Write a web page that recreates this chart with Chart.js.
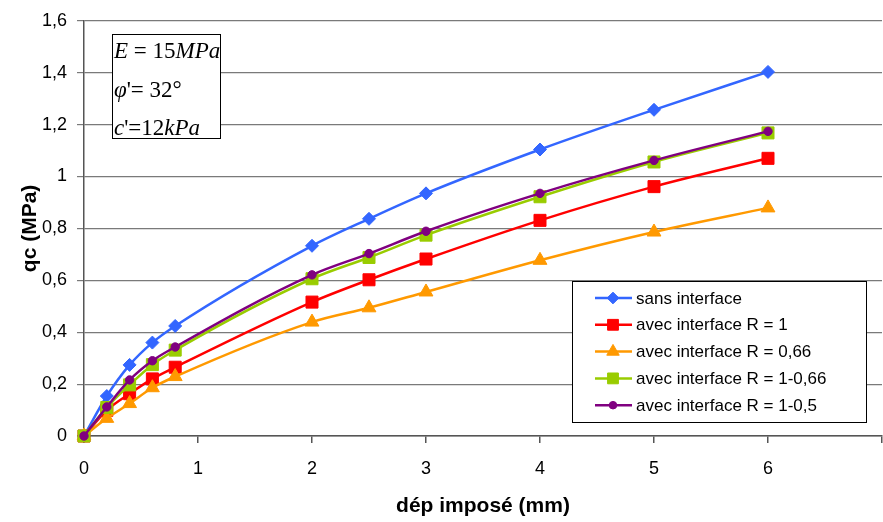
<!DOCTYPE html>
<html><head><meta charset="utf-8">
<script src="https://cdn.jsdelivr.net/npm/chart.js@4.4.1/dist/chart.umd.min.js"></script>
<style>html,body{margin:0;padding:0;background:#fff}#wrap{width:883px;height:522px;position:relative}</style>
</head><body><div id="wrap"><canvas id="c" width="883" height="522"></canvas></div>
<script>
// ---- data ----
const displacement = [0, 0.2, 0.4, 0.6, 0.8, 2, 2.5, 3, 4, 5, 6];
const seriesNames = ['sans interface', 'avec interface R = 1', 'avec interface R = 0,66', 'avec interface R = 1-0,66', 'avec interface R = 1-0,5'];
const sansInterface   = [0, 0.154, 0.274, 0.360, 0.424, 0.733, 0.837, 0.935, 1.104, 1.257, 1.403];
const interfaceR1     = [0, 0.099, 0.163, 0.220, 0.265, 0.516, 0.602, 0.682, 0.831, 0.961, 1.070];
const interfaceR066   = [0, 0.068, 0.125, 0.186, 0.229, 0.439, 0.494, 0.555, 0.677, 0.786, 0.879];
const interfaceR1_066 = [0, 0.110, 0.197, 0.275, 0.331, 0.606, 0.688, 0.774, 0.922, 1.056, 1.168];
const interfaceR1_05  = [0, 0.112, 0.216, 0.290, 0.343, 0.621, 0.703, 0.789, 0.935, 1.062, 1.174];
const xTickLabels = ['0', '1', '2', '3', '4', '5', '6', ''];
const yTickLabels = ['0', '0,2', '0,4', '0,6', '0,8', '1', '1,2', '1,4', '1,6'];
const xTitle = 'dép imposé (mm)';
const yTitle = 'qc (MPa)';
const paramLines = ['E = 15MPa', "φ'= 32°", "c'=12kPa"];

// ---- styles ----
const seriesValues = [sansInterface, interfaceR1, interfaceR066, interfaceR1_066, interfaceR1_05];
const colors = ['#3366FF', '#FF0000', '#FF9900', '#99CC00', '#800080'];
const pointStyles = ['rectRot', 'rect', 'triangle', 'rect', 'circle'];
const pointRadii = [6.5, 8.5, 8, 8.5, 4.2];
const FONT = "'Liberation Sans', Arial, sans-serif";

const datasets = seriesValues.map((vals, i) => ({
  label: seriesNames[i],
  data: displacement.map((x, k) => ({ x: x, y: vals[k] })),
  borderColor: colors[i],
  backgroundColor: colors[i],
  pointBackgroundColor: colors[i],
  pointBorderColor: colors[i],
  pointBorderWidth: 1,
  pointStyle: pointStyles[i],
  pointRadius: pointRadii[i],
  borderWidth: 2.5,
  cubicInterpolationMode: 'monotone',
  order: seriesValues.length - 1 - i,
  clip: false
}));

const overlayPlugin = {
  id: 'overlay',
  afterDraw(chart) {
    const ctx = chart.ctx;
    ctx.save();
    // parameter box
    const bx = 112, by = 34, bw = 108, bh = 104;
    ctx.fillStyle = '#fff';
    ctx.fillRect(bx, by, bw, bh);
    ctx.strokeStyle = '#000';
    ctx.lineWidth = 1;
    ctx.strokeRect(bx + 0.5, by + 0.5, bw, bh);
    ctx.fillStyle = '#000';
    ctx.textBaseline = 'alphabetic';
    ctx.textAlign = 'left';
    paramLines.forEach((line, li) => {
      let x = bx + 2;
      const y = 58 + li * 38.5;
      for (const ch of line) {
        const italic = /[A-Za-zφ]/.test(ch);
        ctx.font = (italic ? 'italic ' : '') + "23px 'Liberation Serif', 'Times New Roman', serif";
        ctx.fillText(ch, x, y);
        x += ctx.measureText(ch).width;
      }
    });
    // legend
    const lx = 572, ly = 281, lw = 294, lh = 141;
    ctx.fillStyle = '#fff';
    ctx.fillRect(lx, ly, lw, lh);
    ctx.strokeStyle = '#000';
    ctx.strokeRect(lx + 0.5, ly + 0.5, lw, lh);
    chart.data.datasets.forEach((ds, i) => {
      const y = 298 + i * 26.8;
      ctx.strokeStyle = ds.borderColor;
      ctx.lineWidth = 2.5;
      ctx.beginPath();
      ctx.moveTo(595, y);
      ctx.lineTo(632, y);
      ctx.stroke();
      ctx.fillStyle = ds.pointBackgroundColor;
      ctx.strokeStyle = ds.pointBorderColor;
      ctx.lineWidth = 1;
      Chart.helpers.drawPoint(ctx, { pointStyle: ds.pointStyle, radius: ds.pointRadius * 0.9, rotation: 0, borderWidth: 1 }, 613, y);
      ctx.fillStyle = '#000';
      ctx.font = '17px ' + FONT;
      ctx.textBaseline = 'middle';
      ctx.fillText(ds.label, 636, y + 1);
    });
    ctx.restore();
  }
};

new Chart(document.getElementById('c'), {
  type: 'line',
  data: { datasets: datasets },
  options: {
    responsive: false,
    animation: false,
    devicePixelRatio: 1,
    layout: { autoPadding: false, padding: { top: 17, right: 1, left: 0, bottom: 0 } },
    plugins: { legend: { display: false }, tooltip: { enabled: false } },
    scales: {
      x: {
        type: 'linear', min: 0, max: 7,
        ticks: { stepSize: 1, color: '#000', font: { size: 18, family: FONT }, padding: 15,
                 callback: (v, i) => xTickLabels[i] },
        grid: { drawOnChartArea: false, tickLength: 7, color: '#555', lineWidth: 1.5 },
        border: { color: '#555', width: 1.5 },
        title: { display: true, text: xTitle, color: '#000', font: { size: 21, weight: 'bold', family: FONT }, padding: { top: 0, bottom: 3 } },
        afterFit: s => { s.height = 86; s.paddingRight = 0; s.paddingLeft = 0; }
      },
      y: {
        min: 0, max: 1.6,
        ticks: { stepSize: 0.2, color: '#000', font: { size: 18, family: FONT }, padding: 10,
                 callback: (v, i) => yTickLabels[i] },
        grid: { color: '#7a7a7a', lineWidth: 1.2, tickLength: 7 },
        border: { color: '#555', width: 1.5 },
        title: { display: true, text: yTitle, color: '#000', font: { size: 21, weight: 'bold', family: FONT }, padding: { top: 18, bottom: 0 } },
        afterFit: s => { s.width = 84; }
      }
    }
  },
  plugins: [overlayPlugin]
});
</script></body></html>
